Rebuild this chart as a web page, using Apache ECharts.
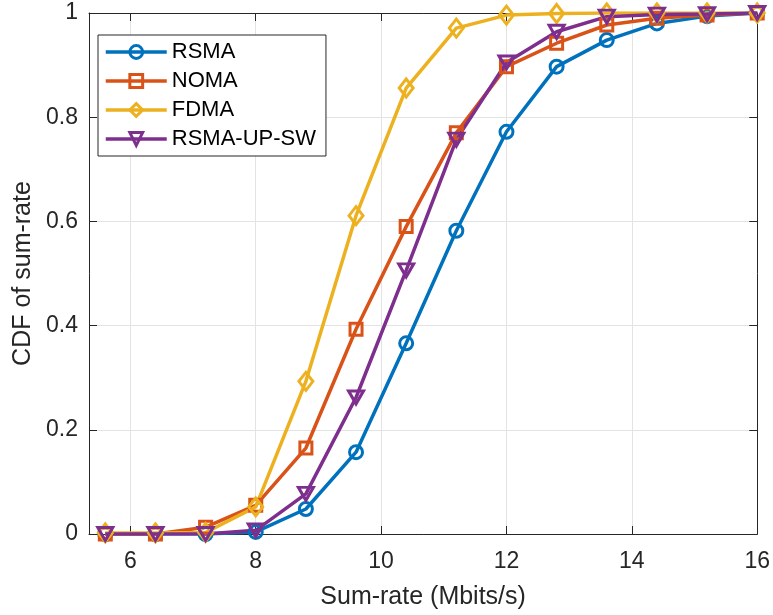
<!DOCTYPE html>
<html>
<head>
<meta charset="utf-8">
<script src="https://cdn.jsdelivr.net/npm/echarts@6/dist/echarts.min.js"></script>
<style>html,body{margin:0;padding:0;background:#fff}#c{width:773px;height:615px}</style>
</head>
<body>
<div id="c"></div>
<script>
const xValues = [5.6, 6.4, 7.2, 8.0, 8.8, 9.6, 10.4, 11.2, 12.0, 12.8, 13.6, 14.4, 15.2, 16.0];
const rsma   = [0, 0, 0, 0.004, 0.048, 0.157, 0.366, 0.582, 0.772, 0.897, 0.948, 0.980, 0.994, 1.0];
const noma   = [0, 0, 0.013, 0.055, 0.165, 0.393, 0.590, 0.770, 0.897, 0.942, 0.977, 0.990, 0.996, 1.0];
const fdma   = [0.002, 0.002, 0.003, 0.052, 0.293, 0.611, 0.856, 0.971, 0.996, 0.999, 1.0, 1.0, 1.0, 1.0];
const rsmaUp = [0, 0, 0, 0.007, 0.077, 0.262, 0.506, 0.757, 0.905, 0.964, 0.993, 0.997, 0.998, 1.0];
const seriesNames = ['RSMA', 'NOMA', 'FDMA', 'RSMA-UP-SW'];
const yTickLabels = ['0', '0.2', '0.4', '0.6', '0.8', '1'];

const colors = ['#0072BD', '#D95319', '#EDB120', '#7E2F8E'];
const symbols = ['circle', 'rect', 'diamond', 'triangle'];
const sizes = [13, 12, [14, 18], [15, 13]];
const rotates = [0, 0, 0, 180];
const datasets = [rsma, noma, fdma, rsmaUp];

const axisColor = '#262626';
const font = "'Liberation Sans', Arial, Helvetica, sans-serif";

const chart = echarts.init(document.getElementById('c'), null, {renderer: 'canvas'});
const series = datasets.map((d, i) => ({
  name: seriesNames[i],
  type: 'line',
  data: xValues.map((x, k) => [x, d[k]]),
  symbol: symbols[i],
  symbolSize: sizes[i],
  symbolRotate: rotates[i],
  showAllSymbol: true,
  lineStyle: {color: colors[i], width: 3.5},
  itemStyle: {color: 'rgba(255,255,255,0)', borderColor: colors[i], borderWidth: 3},
  emphasis: {disabled: true},
  animation: false
}));

chart.setOption({
  backgroundColor: '#fff',
  animation: false,
  grid: {left: 89, right: 14, top: 13, bottom: 80, containLabel: false},
  legend: {
    left: 98, top: 35, orient: 'vertical',
    width: 226,
    backgroundColor: '#fff',
    borderColor: axisColor, borderWidth: 1,
    padding: [6, 10, 6, 6],
    itemWidth: 61, itemHeight: 16, itemGap: 7,
    lineStyle: {width: 3.5},
    itemStyle: {borderWidth: 3},
    textStyle: {fontFamily: font, fontSize: 22, color: '#000', padding: [0, 0, 0, 0]},
    data: seriesNames
  },
  xAxis: [{
    type: 'value', min: 5.34, max: 16, splitNumber: 5,
    name: 'Sum-rate (Mbits/s)', nameLocation: 'middle', nameGap: 51,
    nameTextStyle: {fontFamily: font, fontSize: 25, color: axisColor},
    axisLine: {show: true, onZero: false, lineStyle: {color: axisColor, width: 1}},
    axisTick: {show: true, inside: true, length: 8, lineStyle: {color: axisColor}},
    axisLabel: {showMinLabel: false, fontFamily: font, fontSize: 23, color: axisColor, margin: 16},
    splitLine: {show: true, lineStyle: {color: '#e3e3e3', width: 1}}
  }, {
    type: 'value', position: 'top', min: 5.34, max: 16, splitNumber: 5,
    axisLine: {show: true, onZero: false, lineStyle: {color: axisColor, width: 1}},
    axisTick: {show: true, inside: true, length: 8, lineStyle: {color: axisColor}},
    axisLabel: {show: false}, splitLine: {show: false}
  }],
  yAxis: [{
    type: 'value', min: 0, max: 1, interval: 0.2,
    name: 'CDF of sum-rate', nameLocation: 'middle', nameGap: 46,
    nameTextStyle: {fontFamily: font, fontSize: 25, color: axisColor},
    axisLine: {show: true, onZero: false, lineStyle: {color: axisColor, width: 1}},
    axisTick: {show: true, inside: true, length: 8, lineStyle: {color: axisColor}},
    axisLabel: {fontFamily: font, fontSize: 23, color: axisColor, margin: 11,
      formatter: (v) => yTickLabels[Math.round(v / 0.2)]},
    splitLine: {show: true, lineStyle: {color: '#e3e3e3', width: 1}}
  }, {
    type: 'value', position: 'right', min: 0, max: 1, interval: 0.2,
    axisLine: {show: true, onZero: false, lineStyle: {color: axisColor, width: 1}},
    axisTick: {show: true, inside: true, length: 8, lineStyle: {color: axisColor}},
    axisLabel: {show: false}, splitLine: {show: false}
  }],
  series: series
});
</script>
</body>
</html>
